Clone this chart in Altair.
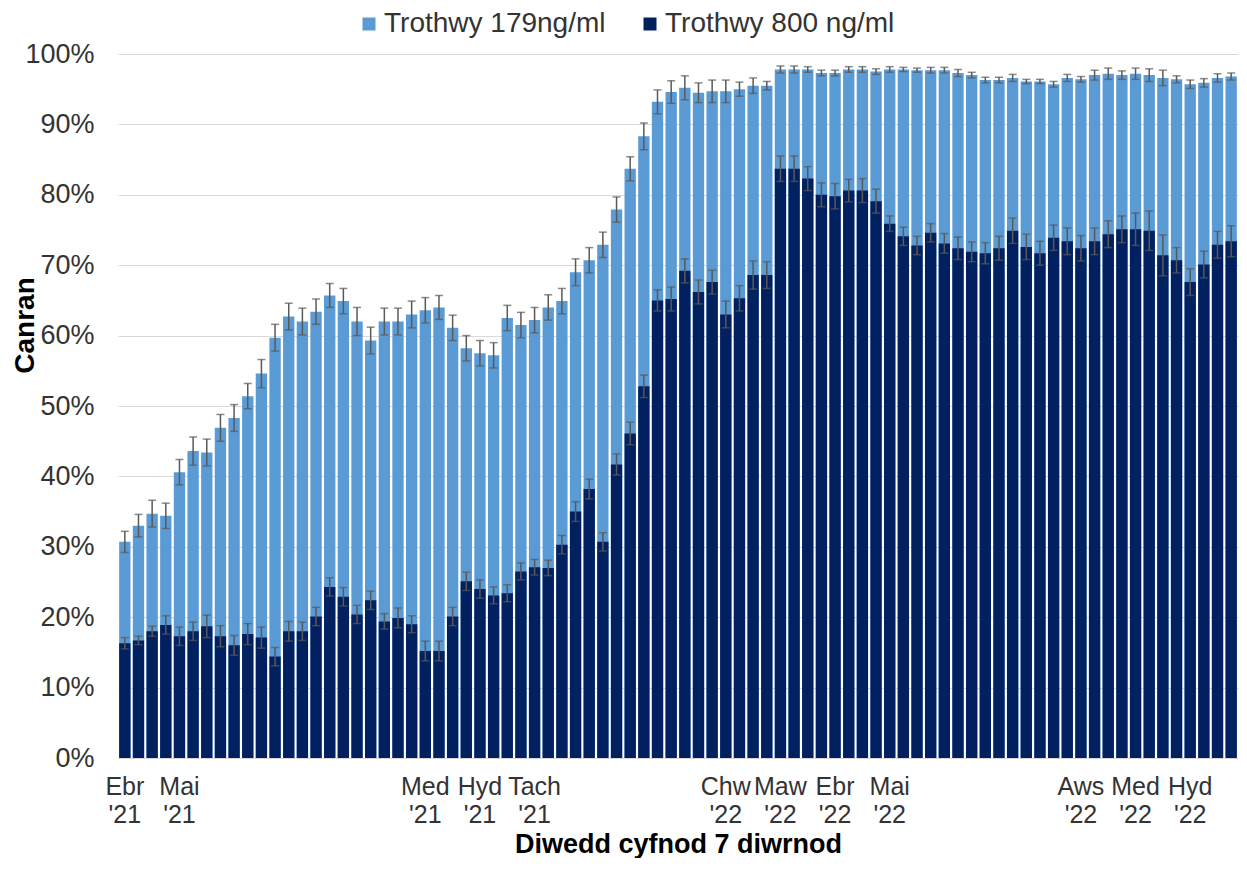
import altair as alt
import pandas as pd

# Share of population above antibody threshold (%), weekly, Apr 2021 - Oct 2022
total_pct = [30.7, 33.0, 34.7, 34.4, 40.6, 43.6, 43.4, 46.9, 48.3, 51.4,
             54.6, 59.7, 62.7, 62.0, 63.4, 65.7, 64.9, 62.0, 59.3, 62.0,
             62.0, 63.0, 63.6, 64.0, 61.1, 58.2, 57.5, 57.2, 62.5, 61.5,
             62.2, 64.0, 64.9, 69.0, 70.7, 72.9, 77.9, 83.7, 88.3, 93.2,
             94.6, 95.2, 94.5, 94.7, 94.7, 95.0, 95.5, 95.5, 97.8, 97.8,
             97.8, 97.3, 97.3, 97.8, 97.8, 97.5, 97.8, 97.8, 97.7, 97.7,
             97.7, 97.3, 97.0, 96.3, 96.3, 96.6, 96.1, 96.1, 95.7, 96.6,
             96.4, 97.0, 97.2, 97.0, 97.2, 97.0, 96.6, 96.4, 95.7, 95.9,
             96.6, 96.8]
high_pct = [16.3, 16.7, 18.0, 18.9, 17.3, 18.0, 18.7, 17.3, 16.0, 17.6,
            17.1, 14.4, 18.0, 18.0, 20.1, 24.3, 22.9, 20.4, 22.4, 19.4,
            19.9, 19.0, 15.2, 15.2, 20.1, 25.1, 24.0, 23.1, 23.4, 26.5,
            27.1, 27.0, 30.3, 35.0, 38.2, 30.7, 41.7, 46.1, 52.8, 65.0,
            65.2, 69.2, 66.2, 67.6, 63.0, 65.3, 68.6, 68.6, 83.7, 83.7,
            82.3, 80.0, 79.8, 80.6, 80.6, 79.1, 75.9, 74.1, 72.8, 74.6,
            73.1, 72.4, 71.9, 71.7, 72.4, 74.9, 72.6, 71.7, 73.9, 73.4,
            72.4, 73.4, 74.4, 75.1, 75.1, 74.9, 71.4, 70.7, 67.6, 70.1,
            72.9, 73.4]
total_err = [1.5, 1.6, 1.9, 1.8, 1.8, 2.0, 1.9, 1.9, 1.9, 1.8,
             2.0, 1.9, 1.9, 1.9, 1.8, 1.7, 1.8, 2.0, 1.9, 1.9,
             1.9, 1.9, 1.8, 1.7, 1.8, 1.8, 1.8, 1.8, 1.8, 1.8,
             1.8, 1.8, 1.8, 1.9, 1.8, 1.8, 1.8, 1.7, 1.9, 1.7,
             1.6, 1.7, 1.4, 1.6, 1.6, 1.0, 1.1, 0.6, 0.5, 0.5,
             0.4, 0.4, 0.4, 0.4, 0.4, 0.4, 0.4, 0.3, 0.3, 0.4,
             0.4, 0.5, 0.4, 0.4, 0.4, 0.5, 0.3, 0.3, 0.4, 0.5,
             0.4, 0.7, 0.8, 0.6, 0.8, 0.9, 1.1, 0.5, 0.6, 0.6,
             0.6, 0.5]
high_err = [0.8, 0.6, 0.7, 1.3, 1.3, 1.3, 1.6, 1.5, 1.4, 1.5,
            1.5, 1.3, 1.4, 1.3, 1.3, 1.3, 1.3, 1.3, 1.3, 1.1,
            1.4, 1.2, 1.4, 1.4, 1.3, 1.3, 1.3, 1.2, 1.2, 1.2,
            1.1, 1.1, 1.3, 1.4, 1.4, 1.3, 1.5, 1.6, 1.6, 1.5,
            1.7, 1.7, 1.7, 1.7, 1.9, 1.8, 2.0, 1.9, 1.8, 1.8,
            1.7, 1.7, 1.8, 1.6, 1.7, 1.7, 1.1, 1.3, 1.3, 1.3,
            1.4, 1.6, 1.4, 1.5, 1.7, 1.8, 1.8, 1.7, 1.8, 1.9,
            1.8, 1.9, 1.9, 1.9, 2.3, 2.8, 2.9, 1.8, 1.9, 1.9,
            1.9, 2.2]

tick_idx = [0, 4, 22, 26, 30, 44, 48, 52, 56, 70, 74, 78]
tick_month = ["Ebr", "Mai", "Med", "Hyd", "Tach", "Chw", "Maw", "Ebr", "Mai", "Aws", "Med", "Hyd"]
tick_year = ["'21", "'21", "'21", "'21", "'21", "'22", "'22", "'22", "'22", "'22", "'22", "'22"]

SERIES = ["Trothwy 179ng/ml", "Trothwy 800 ng/ml"]
COLORS = ["#5B9BD5", "#002060"]
FONT = "Liberation Sans"
ERR_COLOR = "#595959"

rows = []
for s, vals, errs in ((SERIES[0], total_pct, total_err), (SERIES[1], high_pct, high_err)):
    for i, (v, e) in enumerate(zip(vals, errs)):
        rows.append({"idx": i, "series": s, "value": v, "lo": v - e, "hi": v + e})
df = pd.DataFrame(rows)

label_expr = (
    "[" + ",".join(f'["{m}","{y}"]' for m, y in zip(tick_month, tick_year)) + "]"
    + "[indexof([" + ",".join(str(i) for i in tick_idx) + "], toNumber(datum.value))]"
)

x = alt.X(
    "idx:O",
    scale=alt.Scale(paddingInner=0.17, paddingOuter=0.085),
    axis=alt.Axis(
        values=tick_idx, labelExpr=label_expr, labelAngle=0, ticks=False, tickSize=0,
        labelPadding=16, labelFontSize=25, labelLineHeight=28, labelColor="#333333",
        labelBaseline="top", labelOverlap=False, labelFlush=False, labelBound=False,
        domainColor="#D9D9D9", domainWidth=1, grid=False,
        title="Diwedd cyfnod 7 diwrnod", titleFontSize=27, titleFontWeight="bold",
        titleColor="#000000", titleY=94, titleBaseline="alphabetic",
    ),
)
y = alt.Y(
    "value:Q",
    scale=alt.Scale(domain=[0, 100], nice=False),
    axis=alt.Axis(
        values=list(range(0, 101, 10)), labelExpr="datum.value + '%'", ticks=False, tickSize=0,
        labelPadding=24, labelFontSize=27, labelColor="#333333", domain=False,
        gridColor="#D9D9D9", gridWidth=1,
        title="Canran", titleFontSize=28, titleFontWeight="bold", titleColor="#000000",
        titleX=-85, titleY=271, titleAngle=270, titleBaseline="alphabetic", titleAlign="center",
    ),
)
color = alt.Color(
    "series:N",
    scale=alt.Scale(domain=SERIES, range=COLORS),
    legend=alt.Legend(
        title=None, orient="none", legendX=237, legendY=-44, direction="horizontal",
        symbolType="square", symbolSize=169, symbolStrokeWidth=0, labelFontSize=28,
        labelColor="#333333", labelOffset=1, columnPadding=30, labelLimit=600, padding=0,
    ),
)

base = alt.Chart(df)
light = base.transform_filter(alt.datum.series == SERIES[0])
dark = base.transform_filter(alt.datum.series == SERIES[1])

def bars(src):
    return src.mark_bar().encode(x=x, y=y, color=color)

def errs(src):
    rule = src.mark_rule(color=ERR_COLOR, strokeWidth=1.5).encode(x=x, y="lo:Q", y2="hi:Q")
    cap_lo = src.mark_tick(color=ERR_COLOR, thickness=1.5, size=8).encode(x=x, y="lo:Q")
    cap_hi = src.mark_tick(color=ERR_COLOR, thickness=1.5, size=8).encode(x=x, y="hi:Q")
    return [rule, cap_lo, cap_hi]

chart = alt.layer(
    bars(light), bars(dark), *errs(light), *errs(dark)
).properties(
    width=1120, height=704,
    autosize=alt.AutoSizeParams(type="none"),
    padding={"left": 110, "top": 46, "right": 1, "bottom": 100},
).configure(font=FONT).configure_view(stroke=None)

chart.save("out.html", embed_options={"renderer": "svg", "actions": False})
